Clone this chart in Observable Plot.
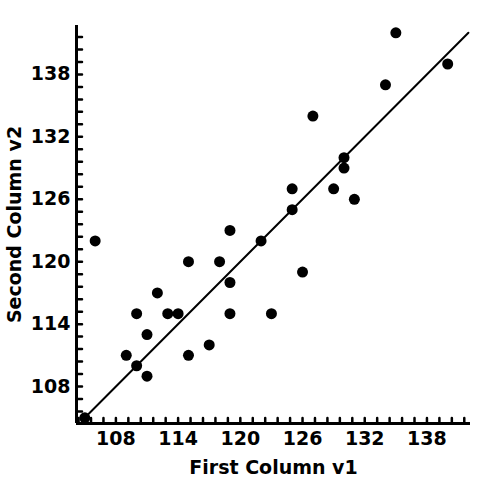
<!DOCTYPE html>
<html>
<head>
<meta charset="utf-8">
<script src="https://cdn.jsdelivr.net/npm/d3@7"></script>
<script src="https://cdn.jsdelivr.net/npm/@observablehq/plot@0.6"></script>
<style>
  html, body { margin: 0; padding: 0; background: #fff; }
</style>
</head>
<body>
<div id="chart"></div>
<script>
// Data
const v1 = [106, 105, 109, 110, 110, 111, 111, 112, 113, 114, 115, 115, 117, 118, 119, 119, 119, 122, 123, 125, 125, 126, 127, 129, 130, 130, 131, 134, 135, 140];
const v2 = [122, 105, 111, 115, 110, 113, 109, 117, 115, 115, 120, 111, 112, 120, 123, 118, 115, 122, 115, 127, 125, 119, 134, 127, 130, 129, 126, 137, 142, 139];
const majorTicks = [108, 114, 120, 126, 132, 138];
const minorTicks = [104.4, 105.6, 106.8, 108, 109.2, 110.4, 111.6, 112.8, 114, 115.2, 116.4, 117.6, 118.8, 120, 121.2, 122.4, 123.6, 124.8, 126, 127.2, 128.4, 129.6, 130.8, 132, 133.2, 134.4, 135.6, 136.8, 138, 139.2, 140.4, 141.6];
const xDomain = [104.2, 142.2];
const yDomain = [104.45, 142.7];
const refLine = [105, 142]; // y = x reference line end points
const xLabel = "First Column v1";
const yLabel = "Second Column v2";

const points = v1.map((x, i) => ({x, y: v2[i]}));
const diag = refLine.map(v => ({x: v, y: v}));
const xMinor = minorTicks.filter(t => t > xDomain[0] && t < xDomain[1]);
const yMinor = minorTicks.filter(t => t > yDomain[0] && t < yDomain[1]);

const chart = Plot.plot({
  width: 500,
  height: 500,
  marginLeft: 76,
  marginRight: 30,
  marginTop: 25,
  marginBottom: 77,
  style: {fontFamily: "DejaVu Sans, Verdana, sans-serif", fontSize: "19px", fontWeight: "bold", color: "black", background: "white"},
  x: {domain: xDomain},
  y: {domain: yDomain},
  marks: [
    Plot.axisX({ticks: majorTicks, tickSize: 0, tickPadding: 8, tickFormat: d => String(d), fontSize: 19, fontWeight: "bold",
      label: xLabel, labelArrow: "none", labelAnchor: "center", labelOffset: 50}),
    Plot.axisY({ticks: majorTicks, tickSize: 0, tickPadding: 6, tickFormat: d => String(d), fontSize: 19, fontWeight: "bold",
      label: yLabel, labelArrow: "none", labelAnchor: "center", labelOffset: 69}),
    Plot.vector(xMinor, {x: d => d, frameAnchor: "bottom", length: 5.5, rotate: 0, anchor: "start", strokeWidth: 2.5, stroke: "black", shape: "spike", r: 0}),
    Plot.vector(yMinor, {y: d => d, frameAnchor: "left", length: 5.5, rotate: 90, anchor: "start", strokeWidth: 2.5, stroke: "black", shape: "spike", r: 0}),
    Plot.ruleX([xDomain[0]], {strokeWidth: 3, stroke: "black"}),
    Plot.ruleY([yDomain[0]], {strokeWidth: 3, stroke: "black"}),
    Plot.line(diag, {x: "x", y: "y", stroke: "black", strokeWidth: 2}),
    Plot.dot(points, {x: "x", y: "y", r: 5.5, fill: "black", stroke: "none"})
  ]
});
document.getElementById("chart").appendChild(chart);
</script>
</body>
</html>
